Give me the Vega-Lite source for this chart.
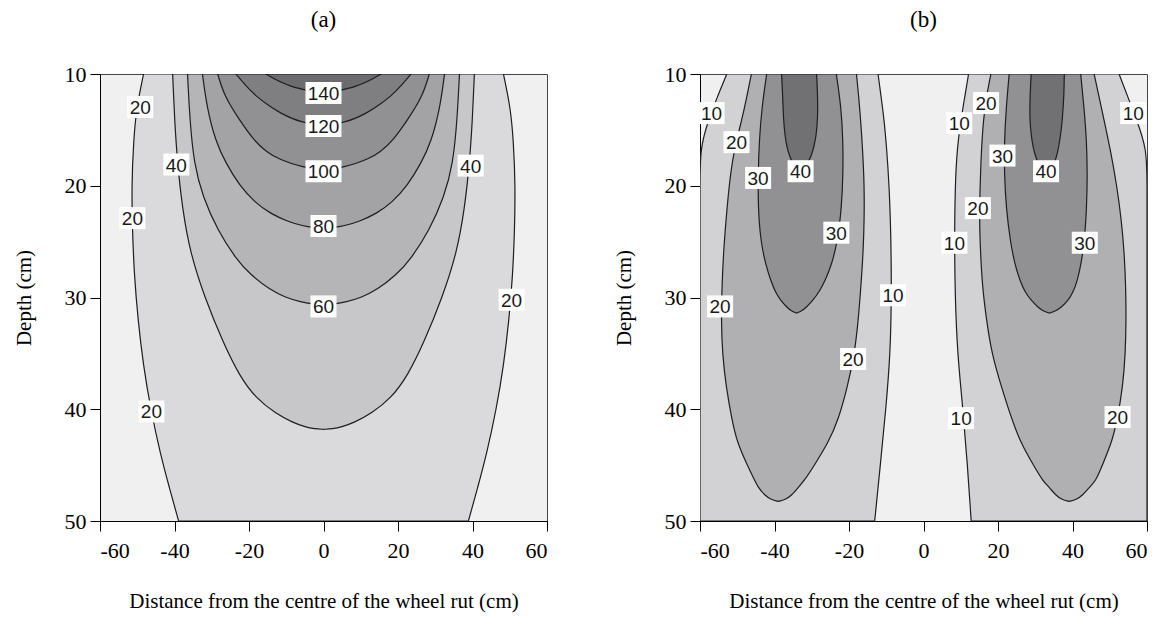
{
"$schema": "https://vega.github.io/schema/vega-lite/v6.json",
"background": "white",
"padding": {"left": 12, "top": 8, "right": 5, "bottom": 5},
"datasets": {
"fa": [
{"lv":20,"d":10,"xl":-48.3,"xr":48.3},{"lv":20,"d":13,"xl":-50.2,"xr":50.2},{"lv":20,"d":16,"xl":-51.0,"xr":51.0},{"lv":20,"d":20,"xl":-51.5,"xr":51.5},{"lv":20,"d":24,"xl":-51.3,"xr":51.3},{"lv":20,"d":28,"xl":-50.8,"xr":50.8},{"lv":20,"d":32,"xl":-49.8,"xr":49.8},{"lv":20,"d":36,"xl":-48.4,"xr":48.4},{"lv":20,"d":40,"xl":-46.4,"xr":46.4},{"lv":20,"d":44,"xl":-43.8,"xr":43.8},{"lv":20,"d":47,"xl":-41.4,"xr":41.4},{"lv":20,"d":50,"xl":-38.9,"xr":38.9},
{"lv":40,"d":10,"xl":-40.5,"xr":40.5},{"lv":40,"d":14,"xl":-40.0,"xr":40.0},{"lv":40,"d":18,"xl":-39.2,"xr":39.2},{"lv":40,"d":22,"xl":-37.9,"xr":37.9},{"lv":40,"d":26,"xl":-35.8,"xr":35.8},{"lv":40,"d":30,"xl":-31.9,"xr":31.9},{"lv":40,"d":34,"xl":-27.0,"xr":27.0},{"lv":40,"d":37,"xl":-22.6,"xr":22.6},{"lv":40,"d":39,"xl":-18.2,"xr":18.2},{"lv":40,"d":40.4,"xl":-12.8,"xr":12.8},{"lv":40,"d":41.2,"xl":-8.2,"xr":8.2},{"lv":40,"d":41.6,"xl":-4.8,"xr":4.8},{"lv":40,"d":41.75,"xl":-2.4,"xr":2.4},{"lv":40,"d":41.8,"xl":0,"xr":0},
{"lv":60,"d":10,"xl":-36.5,"xr":36.5},{"lv":60,"d":14,"xl":-35.9,"xr":35.9},{"lv":60,"d":18,"xl":-34.8,"xr":34.8},{"lv":60,"d":21,"xl":-32.4,"xr":32.4},{"lv":60,"d":24,"xl":-28.4,"xr":28.4},{"lv":60,"d":26.5,"xl":-23.6,"xr":23.6},{"lv":60,"d":28,"xl":-19.5,"xr":19.5},{"lv":60,"d":29.3,"xl":-14.4,"xr":14.4},{"lv":60,"d":30,"xl":-10.2,"xr":10.2},{"lv":60,"d":30.4,"xl":-6.0,"xr":6.0},{"lv":60,"d":30.58,"xl":-3.0,"xr":3.0},{"lv":60,"d":30.66,"xl":0,"xr":0},
{"lv":80,"d":10,"xl":-32.5,"xr":32.5},{"lv":80,"d":13,"xl":-31.3,"xr":31.3},{"lv":80,"d":16,"xl":-29.0,"xr":29.0},{"lv":80,"d":18,"xl":-26.2,"xr":26.2},{"lv":80,"d":20,"xl":-22.5,"xr":22.5},{"lv":80,"d":21.5,"xl":-18.4,"xr":18.4},{"lv":80,"d":22.5,"xl":-14.2,"xr":14.2},{"lv":80,"d":23.2,"xl":-9.6,"xr":9.6},{"lv":80,"d":23.6,"xl":-5.5,"xr":5.5},{"lv":80,"d":23.75,"xl":-2.5,"xr":2.5},{"lv":80,"d":23.82,"xl":0,"xr":0},
{"lv":100,"d":10,"xl":-28.4,"xr":28.4},{"lv":100,"d":12,"xl":-26.6,"xr":26.6},{"lv":100,"d":14,"xl":-22.8,"xr":22.8},{"lv":100,"d":16,"xl":-18.6,"xr":18.6},{"lv":100,"d":17,"xl":-15.2,"xr":15.2},{"lv":100,"d":17.6,"xl":-12.0,"xr":12.0},{"lv":100,"d":18,"xl":-8.8,"xr":8.8},{"lv":100,"d":18.3,"xl":-5.5,"xr":5.5},{"lv":100,"d":18.5,"xl":-2.5,"xr":2.5},{"lv":100,"d":18.58,"xl":0,"xr":0},
{"lv":120,"d":10,"xl":-23.5,"xr":23.5},{"lv":120,"d":11,"xl":-21.0,"xr":21.0},{"lv":120,"d":12,"xl":-18.1,"xr":18.1},{"lv":120,"d":13,"xl":-14.0,"xr":14.0},{"lv":120,"d":13.5,"xl":-11.5,"xr":11.5},{"lv":120,"d":14,"xl":-8.4,"xr":8.4},{"lv":120,"d":14.3,"xl":-5.6,"xr":5.6},{"lv":120,"d":14.5,"xl":-3.0,"xr":3.0},{"lv":120,"d":14.62,"xl":0,"xr":0},
{"lv":140,"d":10,"xl":-15.5,"xr":15.5},{"lv":140,"d":10.4,"xl":-13.4,"xr":13.4},{"lv":140,"d":10.8,"xl":-11.0,"xr":11.0},{"lv":140,"d":11.1,"xl":-8.7,"xr":8.7},{"lv":140,"d":11.3,"xl":-6.5,"xr":6.5},{"lv":140,"d":11.45,"xl":-4.6,"xr":4.6},{"lv":140,"d":11.55,"xl":-2.8,"xr":2.8},{"lv":140,"d":11.62,"xl":0,"xr":0}
],
"fb": [
{"lv":10,"part":"L","d":10,"xl":-52.8,"xr":-12.2},{"lv":10,"part":"L","d":12,"xl":-55.3,"xr":-11.4},{"lv":10,"part":"L","d":14,"xl":-57.6,"xr":-10.6},{"lv":10,"part":"L","d":16.6,"xl":-60,"xr":-9.9},{"lv":10,"part":"L","d":20,"xl":-60,"xr":-9.2},{"lv":10,"part":"L","d":25,"xl":-60,"xr":-8.7},{"lv":10,"part":"L","d":30,"xl":-60,"xr":-8.6},{"lv":10,"part":"L","d":35,"xl":-60,"xr":-8.9},{"lv":10,"part":"L","d":40,"xl":-60,"xr":-10.1},{"lv":10,"part":"L","d":45,"xl":-60,"xr":-11.6},{"lv":10,"part":"L","d":50,"xl":-60,"xr":-13.1},
{"lv":10,"part":"R","d":10,"xl":12.1,"xr":52.5},{"lv":10,"part":"R","d":12,"xl":11.1,"xr":54.8},{"lv":10,"part":"R","d":14,"xl":10.1,"xr":57.1},{"lv":10,"part":"R","d":16.7,"xl":9.0,"xr":60},{"lv":10,"part":"R","d":20,"xl":8.5,"xr":60},{"lv":10,"part":"R","d":25,"xl":8.3,"xr":60},{"lv":10,"part":"R","d":30,"xl":8.5,"xr":60},{"lv":10,"part":"R","d":35,"xl":9.1,"xr":60},{"lv":10,"part":"R","d":40,"xl":10.6,"xr":60},{"lv":10,"part":"R","d":45,"xl":11.8,"xr":60},{"lv":10,"part":"R","d":50,"xl":12.8,"xr":60},
{"lv":20,"part":"L","d":10,"xl":-46.2,"xr":-18.0},{"lv":20,"part":"L","d":12,"xl":-47.4,"xr":-17.4},{"lv":20,"part":"L","d":14,"xl":-48.7,"xr":-16.9},{"lv":20,"part":"L","d":17,"xl":-51.0,"xr":-16.3},{"lv":20,"part":"L","d":20,"xl":-52.2,"xr":-15.9},{"lv":20,"part":"L","d":23,"xl":-53.0,"xr":-15.9},{"lv":20,"part":"L","d":26,"xl":-53.7,"xr":-16.2},{"lv":20,"part":"L","d":29,"xl":-54.1,"xr":-16.8},{"lv":20,"part":"L","d":32,"xl":-54.3,"xr":-17.5},{"lv":20,"part":"L","d":35,"xl":-54.0,"xr":-18.5},{"lv":20,"part":"L","d":38,"xl":-53.0,"xr":-20.4},{"lv":20,"part":"L","d":41,"xl":-51.4,"xr":-22.9},{"lv":20,"part":"L","d":43,"xl":-50.0,"xr":-25.6},{"lv":20,"part":"L","d":45,"xl":-47.3,"xr":-29.3},{"lv":20,"part":"L","d":46.1,"xl":-45.7,"xr":-31.4},{"lv":20,"part":"L","d":47,"xl":-44.4,"xr":-33.6},{"lv":20,"part":"L","d":47.7,"xl":-42.6,"xr":-35.4},{"lv":20,"part":"L","d":48.1,"xl":-40.9,"xr":-37.1},{"lv":20,"part":"L","d":48.25,"xl":-39.0,"xr":-39.0},
{"lv":20,"part":"R","d":10,"xl":18.1,"xr":45.8},{"lv":20,"part":"R","d":12,"xl":16.9,"xr":47.1},{"lv":20,"part":"R","d":14,"xl":16.1,"xr":48.4},{"lv":20,"part":"R","d":17,"xl":15.5,"xr":50.3},{"lv":20,"part":"R","d":20,"xl":15.2,"xr":51.9},{"lv":20,"part":"R","d":23,"xl":15.0,"xr":53.1},{"lv":20,"part":"R","d":26,"xl":15.3,"xr":53.9},{"lv":20,"part":"R","d":29,"xl":15.8,"xr":54.3},{"lv":20,"part":"R","d":32,"xl":16.9,"xr":54.4},{"lv":20,"part":"R","d":35,"xl":18.3,"xr":54.2},{"lv":20,"part":"R","d":38,"xl":20.9,"xr":53.5},{"lv":20,"part":"R","d":41,"xl":23.8,"xr":52.0},{"lv":20,"part":"R","d":43,"xl":26.1,"xr":50.5},{"lv":20,"part":"R","d":45,"xl":29.5,"xr":48.0},{"lv":20,"part":"R","d":46.4,"xl":32.0,"xr":46.3},{"lv":20,"part":"R","d":47,"xl":33.8,"xr":44.5},{"lv":20,"part":"R","d":47.7,"xl":35.5,"xr":42.7},{"lv":20,"part":"R","d":48.1,"xl":37.2,"xr":41.0},{"lv":20,"part":"R","d":48.25,"xl":39.1,"xr":39.1},
{"lv":30,"part":"L","d":10,"xl":-42.1,"xr":-23.4},{"lv":30,"part":"L","d":13,"xl":-43.4,"xr":-22.1},{"lv":30,"part":"L","d":16,"xl":-44.1,"xr":-21.6},{"lv":30,"part":"L","d":19,"xl":-44.4,"xr":-21.6},{"lv":30,"part":"L","d":22,"xl":-44.4,"xr":-22.0},{"lv":30,"part":"L","d":25,"xl":-43.7,"xr":-23.1},{"lv":30,"part":"L","d":27,"xl":-42.4,"xr":-24.6},{"lv":30,"part":"L","d":28.5,"xl":-41.0,"xr":-26.4},{"lv":30,"part":"L","d":29.5,"xl":-39.8,"xr":-28.0},{"lv":30,"part":"L","d":30.3,"xl":-38.3,"xr":-29.8},{"lv":30,"part":"L","d":30.9,"xl":-36.6,"xr":-31.5},{"lv":30,"part":"L","d":31.2,"xl":-35.5,"xr":-32.7},{"lv":30,"part":"L","d":31.4,"xl":-34.1,"xr":-34.1},
{"lv":30,"part":"R","d":10,"xl":23.0,"xr":42.2},{"lv":30,"part":"R","d":13,"xl":22.2,"xr":43.1},{"lv":30,"part":"R","d":16,"xl":21.7,"xr":43.8},{"lv":30,"part":"R","d":19,"xl":21.7,"xr":44.0},{"lv":30,"part":"R","d":22,"xl":22.2,"xr":43.8},{"lv":30,"part":"R","d":25,"xl":23.3,"xr":43.2},{"lv":30,"part":"R","d":27,"xl":24.5,"xr":42.3},{"lv":30,"part":"R","d":28.5,"xl":25.9,"xr":41.3},{"lv":30,"part":"R","d":29.5,"xl":27.2,"xr":40.2},{"lv":30,"part":"R","d":30.3,"xl":29.0,"xr":38.8},{"lv":30,"part":"R","d":30.9,"xl":30.8,"xr":36.9},{"lv":30,"part":"R","d":31.2,"xl":32.1,"xr":35.5},{"lv":30,"part":"R","d":31.4,"xl":33.8,"xr":33.8},
{"lv":40,"part":"L","d":10,"xl":-38.1,"xr":-28.7},{"lv":40,"part":"L","d":12,"xl":-37.8,"xr":-28.4},{"lv":40,"part":"L","d":14,"xl":-37.6,"xr":-28.4},{"lv":40,"part":"L","d":15.5,"xl":-37.2,"xr":-28.8},{"lv":40,"part":"L","d":16.5,"xl":-36.7,"xr":-29.4},{"lv":40,"part":"L","d":17.3,"xl":-36.0,"xr":-30.1},{"lv":40,"part":"L","d":17.9,"xl":-35.2,"xr":-31.0},{"lv":40,"part":"L","d":18.3,"xl":-34.3,"xr":-32.0},{"lv":40,"part":"L","d":18.7,"xl":-33.2,"xr":-33.2},
{"lv":40,"part":"R","d":10,"xl":28.9,"xr":37.8},{"lv":40,"part":"R","d":12,"xl":28.6,"xr":37.7},{"lv":40,"part":"R","d":14,"xl":28.5,"xr":37.3},{"lv":40,"part":"R","d":15.5,"xl":28.9,"xr":36.8},{"lv":40,"part":"R","d":16.5,"xl":29.4,"xr":36.3},{"lv":40,"part":"R","d":17.3,"xl":30.0,"xr":35.8},{"lv":40,"part":"R","d":17.9,"xl":30.7,"xr":35.2},{"lv":40,"part":"R","d":18.3,"xl":31.5,"xr":34.4},{"lv":40,"part":"R","d":18.7,"xl":32.8,"xr":32.8}
],
"lab": [
{"p":"a","t":"140","xl":0,"d":11.7},{"p":"a","t":"120","xl":0,"d":14.65},{"p":"a","t":"100","xl":0,"d":18.7},{"p":"a","t":"80","xl":0,"d":23.6},{"p":"a","t":"60","xl":0,"d":30.8},
{"p":"a","t":"20","xl":-49.2,"d":12.95},{"p":"a","t":"40","xl":-39.5,"d":18.1},{"p":"a","t":"20","xl":-51.3,"d":22.9},{"p":"a","t":"20","xl":-46.2,"d":40.2},{"p":"a","t":"40","xl":39.5,"d":18.2},{"p":"a","t":"20","xl":50.5,"d":30.2},
{"p":"b","t":"10","xl":-56.9,"d":13.5},{"p":"b","t":"20","xl":-50.2,"d":16.1},{"p":"b","t":"30","xl":-44.4,"d":19.3},{"p":"b","t":"40","xl":-33.0,"d":18.7},{"p":"b","t":"30","xl":-23.4,"d":24.2},{"p":"b","t":"10","xl":-8.2,"d":29.8},{"p":"b","t":"20","xl":-54.6,"d":30.8},{"p":"b","t":"20","xl":-18.9,"d":35.5},
{"p":"b","t":"20","xl":16.8,"d":12.6},{"p":"b","t":"10","xl":9.6,"d":14.4},{"p":"b","t":"30","xl":21.2,"d":17.3},{"p":"b","t":"40","xl":32.9,"d":18.7},{"p":"b","t":"20","xl":14.6,"d":22.0},{"p":"b","t":"10","xl":8.3,"d":25.1},{"p":"b","t":"30","xl":43.3,"d":25.1},{"p":"b","t":"10","xl":56.3,"d":13.5},{"p":"b","t":"10","xl":10.1,"d":40.8},{"p":"b","t":"20","xl":52.1,"d":40.7}
]
},
"spacing": 64,
"hconcat": [
{
"title": "(a)",
"width": 447, "height": 447,
"encoding": {
"x": {"field": "xl", "type": "quantitative", "scale": {"domain": [-60, 60], "nice": false, "zero": false}, "axis": {"title": "Distance from the centre of the wheel rut (cm)", "values": [-60,-40,-20,0,20,40,60], "labelExpr": "'' + datum.value"}},
"y": {"field": "d", "type": "quantitative", "scale": {"domain": [10, 50], "nice": false, "zero": false, "reverse": true}, "axis": {"title": "Depth (cm)", "values": [10,20,30,40,50], "labelExpr": "'' + datum.value"}}
},
"layer": [
{"data": {"name": "fa"}, "transform": [{"filter": "datum.lv == 20"}], "mark": {"type": "area", "orient": "horizontal", "interpolate": "basis", "fill": "#dadadc", "fillOpacity": 1, "stroke": "#1e1e1e", "strokeWidth": 1.2, "clip": true}, "encoding": {"x2": {"field": "xr"}}},
{"data": {"name": "fa"}, "transform": [{"filter": "datum.lv == 40"}], "mark": {"type": "area", "orient": "horizontal", "interpolate": "basis", "fill": "#c7c7c9", "fillOpacity": 1, "stroke": "#1e1e1e", "strokeWidth": 1.2, "clip": true}, "encoding": {"x2": {"field": "xr"}}},
{"data": {"name": "fa"}, "transform": [{"filter": "datum.lv == 60"}], "mark": {"type": "area", "orient": "horizontal", "interpolate": "basis", "fill": "#b5b5b7", "fillOpacity": 1, "stroke": "#1e1e1e", "strokeWidth": 1.2, "clip": true}, "encoding": {"x2": {"field": "xr"}}},
{"data": {"name": "fa"}, "transform": [{"filter": "datum.lv == 80"}], "mark": {"type": "area", "orient": "horizontal", "interpolate": "basis", "fill": "#a3a3a5", "fillOpacity": 1, "stroke": "#1e1e1e", "strokeWidth": 1.2, "clip": true}, "encoding": {"x2": {"field": "xr"}}},
{"data": {"name": "fa"}, "transform": [{"filter": "datum.lv == 100"}], "mark": {"type": "area", "orient": "horizontal", "interpolate": "basis", "fill": "#919193", "fillOpacity": 1, "stroke": "#1e1e1e", "strokeWidth": 1.2, "clip": true}, "encoding": {"x2": {"field": "xr"}}},
{"data": {"name": "fa"}, "transform": [{"filter": "datum.lv == 120"}], "mark": {"type": "area", "orient": "horizontal", "interpolate": "basis", "fill": "#7f7f81", "fillOpacity": 1, "stroke": "#1e1e1e", "strokeWidth": 1.2, "clip": true}, "encoding": {"x2": {"field": "xr"}}},
{"data": {"name": "fa"}, "transform": [{"filter": "datum.lv == 140"}], "mark": {"type": "area", "orient": "horizontal", "interpolate": "basis", "fill": "#6c6c6e", "fillOpacity": 1, "stroke": "#1e1e1e", "strokeWidth": 1.2, "clip": true}, "encoding": {"x2": {"field": "xr"}}},
{"data": {"name": "lab"}, "transform": [{"filter": "datum.p == 'a' && length(datum.t) == 2"}], "mark": {"type": "point", "shape": "M-0.65,-0.55H0.65V0.55H-0.65Z", "size": 1600, "filled": true, "fill": "white", "opacity": 1, "strokeWidth": 0}},
{"data": {"name": "lab"}, "transform": [{"filter": "datum.p == 'a' && length(datum.t) == 3"}], "mark": {"type": "point", "shape": "M-0.9,-0.55H0.9V0.55H-0.9Z", "size": 1600, "filled": true, "fill": "white", "opacity": 1, "strokeWidth": 0}},
{"data": {"name": "lab"}, "transform": [{"filter": "datum.p == 'a'"}], "mark": {"type": "text", "font": "Liberation Sans", "fontSize": 19, "fill": "#1a1a1a", "align": "center", "baseline": "middle", "dy": 1}, "encoding": {"text": {"field": "t"}}}
]
},
{
"title": "(b)",
"width": 447, "height": 447,
"encoding": {
"x": {"field": "xl", "type": "quantitative", "scale": {"domain": [-60, 60], "nice": false, "zero": false}, "axis": {"title": "Distance from the centre of the wheel rut (cm)", "values": [-60,-40,-20,0,20,40,60], "labelExpr": "'' + datum.value"}},
"y": {"field": "d", "type": "quantitative", "scale": {"domain": [10, 50], "nice": false, "zero": false, "reverse": true}, "axis": {"title": "Depth (cm)", "values": [10,20,30,40,50], "labelExpr": "'' + datum.value"}}
},
"layer": [
{"data": {"name": "fb"}, "transform": [{"filter": "datum.lv == 10"}], "mark": {"type": "area", "orient": "horizontal", "interpolate": "basis", "fill": "#d2d2d4", "fillOpacity": 1, "stroke": "#1e1e1e", "strokeWidth": 1.2, "clip": true}, "encoding": {"x2": {"field": "xr"}, "detail": {"field": "part"}}},
{"data": {"name": "fb"}, "transform": [{"filter": "datum.lv == 20"}], "mark": {"type": "area", "orient": "horizontal", "interpolate": "basis", "fill": "#b0b0b2", "fillOpacity": 1, "stroke": "#1e1e1e", "strokeWidth": 1.2, "clip": true}, "encoding": {"x2": {"field": "xr"}, "detail": {"field": "part"}}},
{"data": {"name": "fb"}, "transform": [{"filter": "datum.lv == 30"}], "mark": {"type": "area", "orient": "horizontal", "interpolate": "basis", "fill": "#919193", "fillOpacity": 1, "stroke": "#1e1e1e", "strokeWidth": 1.2, "clip": true}, "encoding": {"x2": {"field": "xr"}, "detail": {"field": "part"}}},
{"data": {"name": "fb"}, "transform": [{"filter": "datum.lv == 40"}], "mark": {"type": "area", "orient": "horizontal", "interpolate": "basis", "fill": "#717173", "fillOpacity": 1, "stroke": "#1e1e1e", "strokeWidth": 1.2, "clip": true}, "encoding": {"x2": {"field": "xr"}, "detail": {"field": "part"}}},
{"data": {"name": "lab"}, "transform": [{"filter": "datum.p == 'b'"}], "mark": {"type": "point", "shape": "M-0.65,-0.55H0.65V0.55H-0.65Z", "size": 1600, "filled": true, "fill": "white", "opacity": 1, "strokeWidth": 0}},
{"data": {"name": "lab"}, "transform": [{"filter": "datum.p == 'b'"}], "mark": {"type": "text", "font": "Liberation Sans", "fontSize": 19, "fill": "#1a1a1a", "align": "center", "baseline": "middle", "dy": 1}, "encoding": {"text": {"field": "t"}}}
]
}
],
"config": {
"view": {"fill": "#f0f0f0", "stroke": "#444444", "strokeWidth": 1},
"axis": {"grid": false, "domainColor": "#000000", "tickColor": "#000000", "tickSize": 10, "labelFont": "Liberation Serif", "labelFontSize": 22, "labelColor": "#000000", "titleFont": "Liberation Serif", "titleFontSize": 21, "titleFontWeight": "normal", "titleColor": "#000000", "labelPadding": 4},
"axisX": {"titlePadding": 29, "labelPadding": 9},
"axisY": {"titlePadding": 30},
"title": {"font": "Liberation Serif", "fontSize": 23, "fontWeight": "normal", "color": "#000000", "offset": 31}
}
}
